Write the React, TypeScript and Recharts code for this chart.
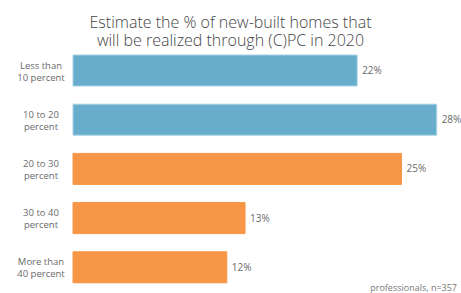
import { BarChart, Bar, XAxis, YAxis, Cell, LabelList } from "recharts";

const categories = [
  ["Less than", "10 percent"],
  ["10 to 20", "percent"],
  ["20 to 30", "percent"],
  ["30 to 40", "percent"],
  ["More than", "40 percent"],
];
const shares = [21.8, 27.9, 25.2, 13.2, 11.8];
const shareLabels = ["22%", "28%", "25%", "13%", "12%"];
const barColors = ["#68adcc", "#68adcc", "#f79646", "#f79646", "#f79646"];
const borderColors = ["#a9d1e4", "#a9d1e4", "#f79646", "#f79646", "#f79646"];
const titleLines = ["Estimate the % of new-built homes that", "will be realized through (C)PC in 2020"];

const data = categories.map((lines, i) => ({
  name: lines.join(" "),
  lines,
  value: shares[i],
  label: shareLabels[i],
}));

const FONT = "'Open Sans', 'DejaVu Sans', sans-serif";

function CategoryTick({ y, payload, index }: any) {
  const lines = categories[index] ?? [payload.value];
  return (
    <text x={41} y={y} textAnchor="middle" fill="#6a6a6a" fontSize={9.5} fontFamily={FONT}>
      {lines.map((l: string, i: number) => (
        <tspan key={i} x={41} textAnchor="middle" dy={i === 0 ? -2 : 12}>
          {l}
        </tspan>
      ))}
    </text>
  );
}

export default function App() {
  return (
    <div style={{ position: "absolute", left: 0, top: 0, width: 461, height: 293, background: "#fff" }}>
      {titleLines.map((t, i) => (
        <div
          key={t}
          style={{
            position: "absolute",
            left: 0,
            top: 13 + i * 18,
            width: 461,
            height: 18,
            textAlign: "center",
            fontFamily: FONT,
            fontSize: 16,
            lineHeight: "18px",
            color: "#444",
            fontWeight: 300,
            whiteSpace: "nowrap",
          }}
        >
          {t}
        </div>
      ))}
      <BarChart
        width={461}
        height={293}
        layout="vertical"
        data={data}
        margin={{ top: 46, right: 10, bottom: 1, left: 0 }}
      >
        <XAxis type="number" domain={[0, 29]} hide />
        <YAxis
          type="category"
          dataKey="name"
          width={73}
          axisLine={false}
          tickLine={false}
          tick={<CategoryTick />}
          interval={0}
        />
        <Bar dataKey="value" barSize={31} isAnimationActive={false}>
          {data.map((d, i) => (
            <Cell key={d.name} fill={barColors[i]} stroke={borderColors[i]} strokeWidth={1} />
          ))}
          <LabelList
            dataKey="label"
            position="right"
            offset={5}
            fill="#6a6a6a"
            fontSize={10}
            fontFamily={FONT}
          />
        </Bar>
      </BarChart>
      <div
        style={{
          position: "absolute",
          right: 4,
          top: 281,
          fontFamily: FONT,
          fontSize: 9,
          color: "#777",
        }}
      >
        professionals, n=357
      </div>
    </div>
  );
}
